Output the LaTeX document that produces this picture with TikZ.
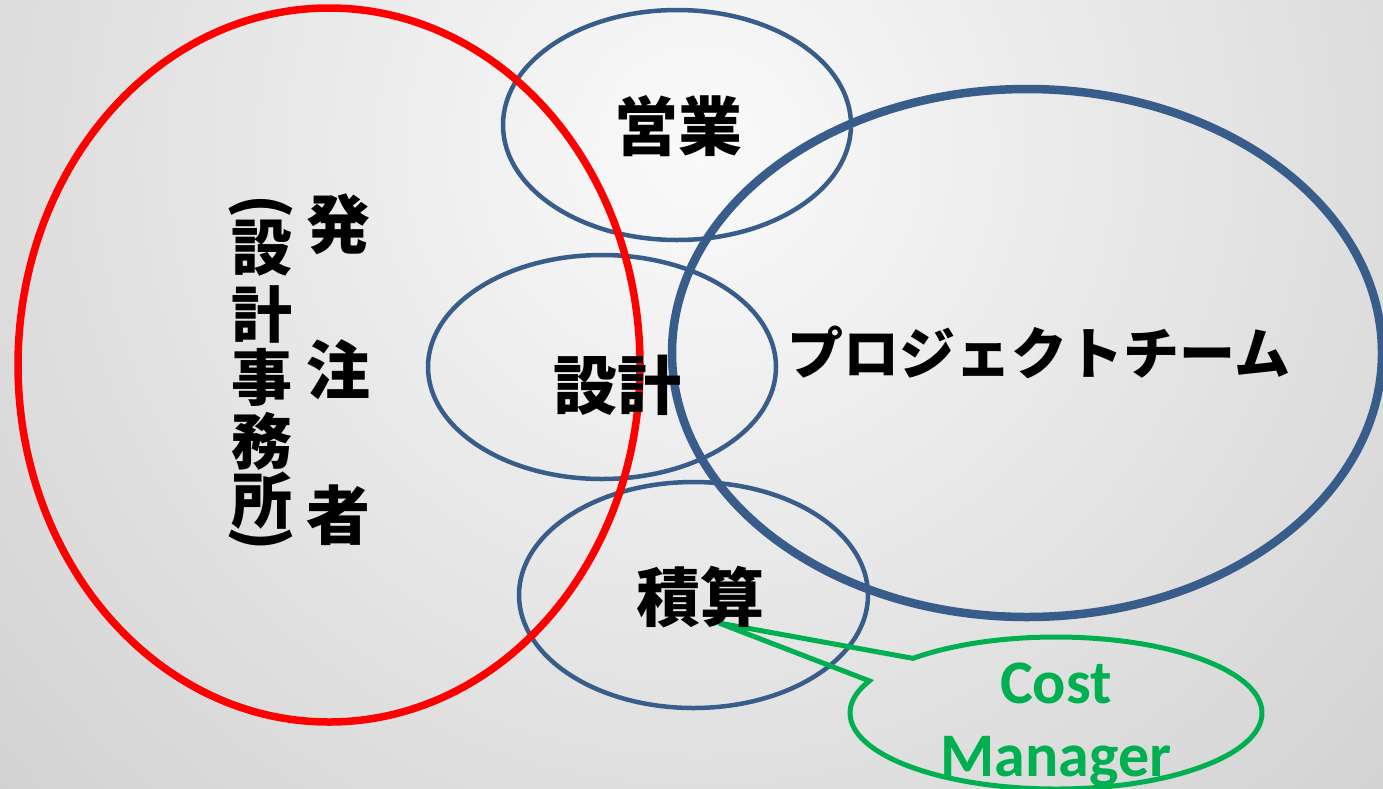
\documentclass[tikz,border=0pt]{standalone}
\usepackage{fontspec}
\usepackage{graphicx}
\usetikzlibrary{calc}
\newfontfamily\jpfont{Noto Sans CJK JP}
\newfontfamily\costfont{Carlito}
\definecolor{obblue}{RGB}{56,93,138}
\definecolor{obgreen}{RGB}{0,176,80}
\definecolor{bgin}{RGB}{250,250,250}
\definecolor{bgout}{RGB}{166,166,166}
\pgfdeclareradialshading{bgshade}{\pgfpoint{0bp}{0bp}}{color(0bp)=(bgin); color(50bp)=(bgout)}
\tikzset{
  thinring/.style={draw=obblue, line width=4.5pt},
  thickring/.style={draw=obblue, line width=8.5pt},
  redring/.style={draw=red, line width=7.5pt},
  callout/.style={draw=obgreen, line width=5pt, line join=miter},
  jptext/.style={font=\jpfont\bfseries\fontsize{64}{64}\selectfont, inner sep=0pt, text=black},
  coltext/.style={font=\jpfont\bfseries\fontsize{61}{61}\selectfont, inner sep=0pt, text=black},
  kanatext/.style={font=\jpfont\bfseries\fontsize{56}{56}\selectfont, inner sep=0pt, text=black},
  costtext/.style={font=\costfont\bfseries\fontsize{62}{72}\selectfont, inner sep=0pt, text=obgreen, align=center}
}
\begin{document}
\begin{tikzpicture}[x=1pt,y=-1pt]
\useasboundingbox (0,0) rectangle (1383,788);
% background
\begin{scope}
\clip (0,0) rectangle (1383,788);
\shade[shading=bgshade] (700,150) circle (1000);
\end{scope}
% rings
\draw[thickring] (1027,353) ellipse [x radius=355, y radius=264];
\draw[thinring] (677,125) ellipse [x radius=174, y radius=115];
\draw[thinring] (602,367) ellipse [x radius=174, y radius=112];
\draw[thinring] (693.5,595) ellipse [x radius=174.5, y radius=113];
\draw[redring] (329,365) ellipse [x radius=311, y radius=357];
% callout
\coordinate (tip) at (719,623);
\coordinate (cmc) at (1056,713);
\draw[callout] (tip) -- ($(cmc)+(226:206 and 76)$)
  arc[start angle=226, end angle=565, x radius=206, y radius=76] -- cycle;
% texts
\node[jptext] (eigyo) at (678,126) {営業};
\node[jptext] (sekkei) at (617,385) {設計};
\node[jptext] (sekisan) at (700,597) {積算};
\node[kanatext] (pt) at (1039,352) {プロジェクトチーム};
\node[jptext] (ha) at (338,224) {発};
\node[jptext] (chu) at (338,370) {注};
\node[jptext] (sha) at (338,515) {者};
\node[coltext] (pl) at (261,207) {\rotatebox{-90}{(}};
\node[coltext] (s1) at (262,248) {設};
\node[coltext] (s2) at (262,314) {計};
\node[coltext] (s3) at (262,377) {事};
\node[coltext] (s4) at (262,441) {務};
\node[coltext] (s5) at (262,501) {所};
\node[coltext] (pr) at (261,539) {\rotatebox{-90}{)}};
\node[costtext, anchor=base] (cost) at (1056,703) {Cost};
\node[costtext, anchor=base] (mgr) at (1056,776) {Manager};
\end{tikzpicture}
\end{document}
